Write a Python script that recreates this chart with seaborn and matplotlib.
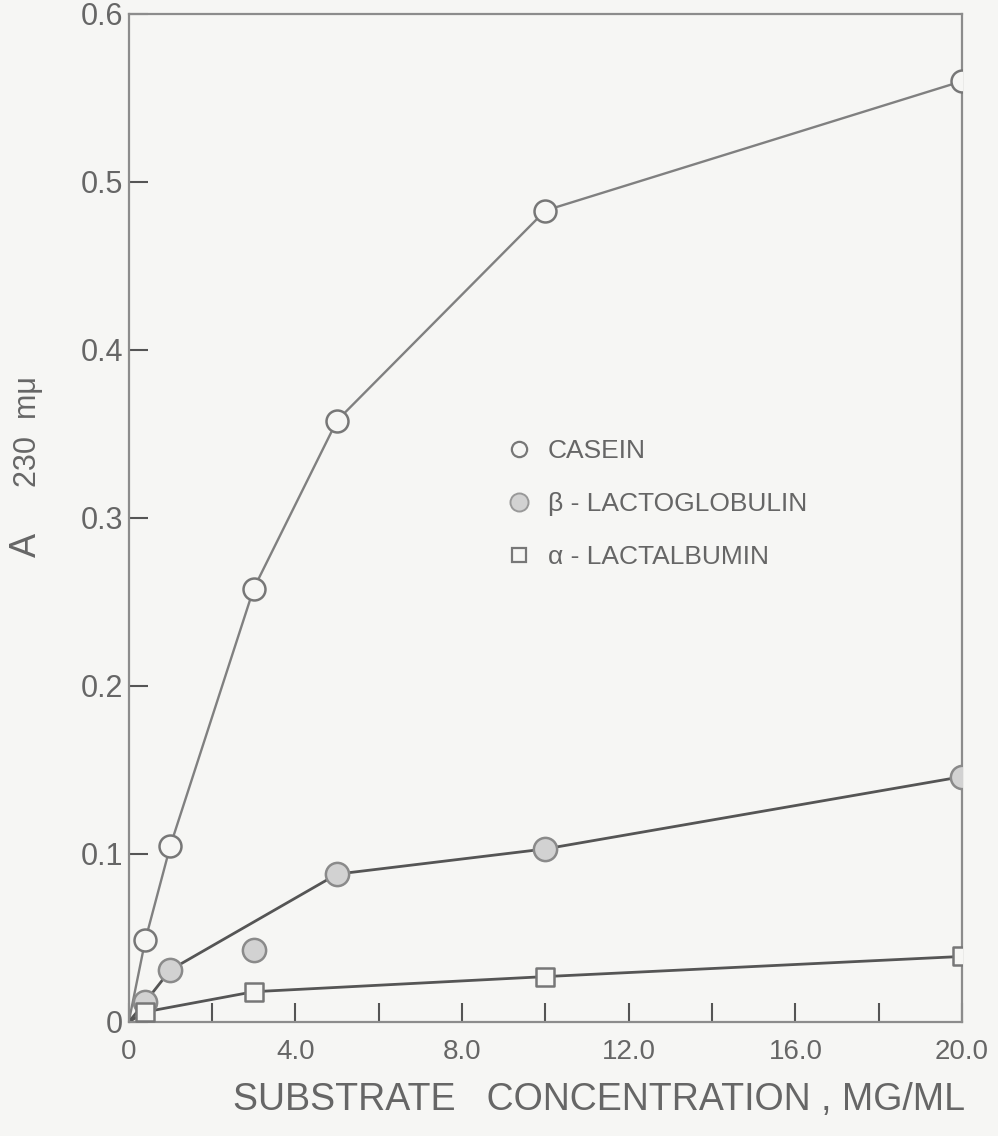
import numpy as np
import pandas as pd
import matplotlib
matplotlib.use("Agg")
import matplotlib.pyplot as plt
import seaborn as sns
from matplotlib.lines import Line2D

# ---------- DATA ----------
casein_x = [0.4, 1.0, 3.0, 5.0, 10.0, 20.0]
casein_y = [0.049, 0.105, 0.258, 0.358, 0.483, 0.560]

beta_x = [0.4, 1.0, 3.0, 5.0, 10.0, 20.0]
beta_y = [0.012, 0.031, 0.043, 0.088, 0.103, 0.146]
beta_on_curve = [True, True, False, True, True, True]

alpha_x = [0.4, 3.0, 10.0, 20.0]
alpha_y = [0.006, 0.018, 0.027, 0.039]

x_ticks = [0, 2, 4, 6, 8, 10, 12, 14, 16, 18, 20]
x_labels = ["0", "", "4.0", "", "8.0", "", "12.0", "", "16.0", "", "20.0"]
y_ticks = [0, 0.1, 0.2, 0.3, 0.4, 0.5, 0.6]
y_labels = ["0", "0.1", "0.2", "0.3", "0.4", "0.5", "0.6"]

labels = ["CASEIN", "\u03b2 - LACTOGLOBULIN", "\u03b1 - LACTALBUMIN"]

# ---------- STYLE ----------
sns.set_style("ticks")
plt.rcParams["font.family"] = ["Liberation Sans", "DejaVu Sans"]
paper = "#f6f6f4"
ink = "#666666"

fig = plt.figure(figsize=(9.98, 11.36), dpi=100, facecolor=paper)
ax = fig.add_axes([0.129, 0.1004, 0.835, 0.8873])
ax.set_facecolor(paper)

# ---------- LINES ----------
# curves start from the origin
sns.lineplot(x=[0] + casein_x, y=[0] + casein_y, ax=ax, sort=False,
             estimator=None, color="#808080", lw=1.7)

beta_line = pd.DataFrame({"x": beta_x, "y": beta_y, "on": beta_on_curve})
beta_line = beta_line[beta_line["on"]]
sns.lineplot(x=[0] + list(beta_line["x"]), y=[0] + list(beta_line["y"]),
             ax=ax, sort=False, estimator=None, color="#555555", lw=2.0)

sns.lineplot(x=[0] + alpha_x, y=[0] + alpha_y, ax=ax, sort=False,
             estimator=None, color="#555555", lw=2.0)

# ---------- MARKERS ----------
sns.scatterplot(x=casein_x, y=casein_y, ax=ax, marker="o", s=250,
                facecolor=paper, edgecolor="#777777", linewidth=1.8, zorder=5)
sns.scatterplot(x=beta_x, y=beta_y, ax=ax, marker="o", s=280,
                facecolor="#d2d2d2", edgecolor="#8a8a8a", linewidth=1.8, zorder=5)
sns.scatterplot(x=alpha_x, y=alpha_y, ax=ax, marker="s", s=150,
                facecolor=paper, edgecolor="#777777", linewidth=1.8, zorder=5)

# ---------- AXES ----------
ax.set_xlim(0, 20)
ax.set_ylim(0, 0.6)
ax.set_xticks(x_ticks)
ax.set_xticklabels(x_labels, fontsize=20, color=ink)
ax.set_yticks(y_ticks)
ax.set_yticklabels(y_labels, fontsize=22, color=ink)
ax.tick_params(axis="both", direction="in", length=14, width=1.5, color="#555555")
ax.tick_params(axis="x", pad=12)
ax.tick_params(axis="y", pad=4)
for sp in ax.spines.values():
    sp.set_visible(True)
    sp.set_color("#8c8c8c")
    sp.set_linewidth(1.6)

fig.text(0.6, 1 - 1100 / 1136, "SUBSTRATE   CONCENTRATION , MG/ML",
         ha="center", va="center", fontsize=27, color=ink)
fig.text(0.026, 1 - 545 / 1136, "A", rotation=90, ha="center", va="center",
         fontsize=26, color=ink)
fig.text(0.028, 1 - 432 / 1136, "230  m\u03bc", rotation=90, ha="center", va="center",
         fontsize=22, color=ink)

# ---------- LEGEND ----------
handles = [
    Line2D([], [], ls="none", marker="o", ms=11, mfc=paper, mec="#777777", mew=1.6),
    Line2D([], [], ls="none", marker="o", ms=13, mfc="#d2d2d2", mec="#999999", mew=1.4),
    Line2D([], [], ls="none", marker="s", ms=10, mfc=paper, mec="#777777", mew=1.6),
]
leg = ax.legend(handles, labels, loc="center left", bbox_to_anchor=(0.452, 0.514),
                frameon=False, fontsize=19, handlelength=1.0, handletextpad=0.6,
                labelspacing=1.1, borderpad=0, borderaxespad=0)
for t in leg.get_texts():
    t.set_color(ink)

fig.savefig("out.png", dpi=100, facecolor=paper)
